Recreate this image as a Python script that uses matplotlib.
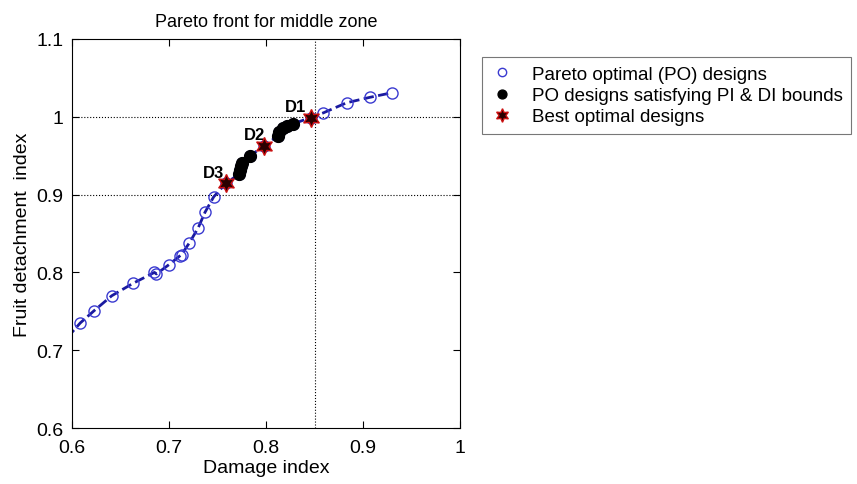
import matplotlib
matplotlib.use('Agg')
import matplotlib.pyplot as plt

plt.rcParams['font.family'] = ['Liberation Sans', 'DejaVu Sans']

# Pareto optimal designs (damage index, fruit detachment index)
po_x = [0.595, 0.6085, 0.623, 0.641, 0.663, 0.685, 0.687, 0.700, 0.711, 0.713,
        0.721, 0.730, 0.737, 0.746, 0.759, 0.772, 0.773, 0.774, 0.775, 0.784,
        0.798, 0.812, 0.813, 0.818, 0.822, 0.828, 0.846, 0.859, 0.883, 0.907, 0.930]
po_y = [0.716, 0.735, 0.751, 0.770, 0.786, 0.800, 0.798, 0.810, 0.821, 0.823,
        0.838, 0.857, 0.877, 0.897, 0.915, 0.926, 0.931, 0.937, 0.941, 0.950,
        0.963, 0.975, 0.981, 0.985, 0.988, 0.991, 0.999, 1.005, 1.018, 1.025, 1.031]

# PO designs within the PI & DI bounds
ok_x = [0.772, 0.773, 0.774, 0.775, 0.784, 0.812, 0.813, 0.818, 0.822, 0.828]
ok_y = [0.926, 0.931, 0.937, 0.941, 0.950, 0.975, 0.981, 0.985, 0.988, 0.991]

# best designs
best_x = [0.846, 0.798, 0.759]
best_y = [0.999, 0.963, 0.915]
best_lab = ['D1', 'D2', 'D3']
lab_x = [0.830, 0.788, 0.746]
lab_y = [1.013, 0.977, 0.928]

fig = plt.figure(figsize=(8.57, 4.85), dpi=100)
ax = fig.add_axes([72 / 857, 1 - 429 / 485, 388 / 857, 389 / 485])

ax.plot(po_x, po_y, '--', color='#1a1aa0', lw=2.0, zorder=2)
h1, = ax.plot(po_x[1:], po_y[1:], 'o', ms=8, mfc='none', mec='#3a3ad0', mew=1.0,
              zorder=3, label='Pareto optimal (PO) designs')
h2, = ax.plot(ok_x, ok_y, 'o', ms=8.5, color='black', zorder=4,
              label='PO designs satisfying PI & DI bounds')
h3, = ax.plot(best_x, best_y, marker=(6, 1, 0), ls='none', ms=13, mfc='#2a0000',
              mec='#cc1010', mew=1.0, zorder=5, label='Best optimal designs')
for t, x, y in zip(best_lab, lab_x, lab_y):
    ax.text(x, y, t, fontsize=12, fontweight='bold', ha='center', va='center')

ax.axvline(0.85, color='black', ls=':', lw=0.8, zorder=1)
ax.axhline(1.0, color='black', ls=':', lw=0.8, zorder=1)
ax.axhline(0.9, color='black', ls=':', lw=0.8, zorder=1)

ax.set_xlim(0.6, 1.0)
ax.set_ylim(0.6, 1.1)
ax.set_xticks([0.6, 0.7, 0.8, 0.9, 1.0], labels=['0.6', '0.7', '0.8', '0.9', '1'])
ax.set_yticks([0.6, 0.7, 0.8, 0.9, 1.0, 1.1], labels=['0.6', '0.7', '0.8', '0.9', '1', '1.1'])
ax.tick_params(direction='in', top=True, right=True, labelsize=14, length=5)
ax.tick_params(axis='x', pad=8)
ax.tick_params(axis='y', pad=6)
ax.set_xlabel('Damage index', fontsize=14, labelpad=2)
ax.set_ylabel('Fruit detachment  index', fontsize=14, labelpad=4)
ax.set_title('Pareto front for middle zone', fontsize=13, pad=9)

leg = fig.legend(handles=[h1, h2, h3], loc='upper left', bbox_to_anchor=(473 / 857, 1 - 49 / 485),
                 fontsize=13.5, frameon=True, fancybox=False, edgecolor='#555555',
                 handlelength=1.2, handletextpad=1.0, borderpad=0.45, labelspacing=0.22,
                 markerscale=0.75)
leg.get_frame().set_linewidth(0.8)

fig.savefig('out.png', dpi=100)
